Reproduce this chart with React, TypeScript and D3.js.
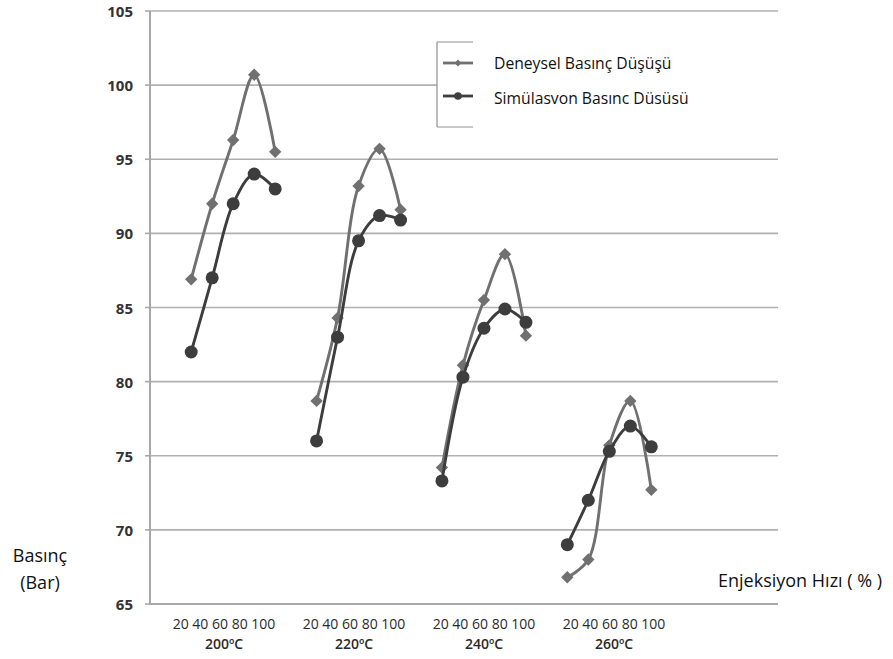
import * as d3 from 'd3';

const groups = ['200ºC', '220ºC', '240ºC', '260ºC'];
const speeds = ['20', '40', '60', '80', '100'];
const speedLabel = speeds.join(' ');

// Deneysel Basınç Düşüşü (diamond)
const deneysel = [
  [86.9, 92.0, 96.3, 100.7, 95.5],
  [78.7, 84.3, 93.2, 95.7, 91.6],
  [74.2, 81.1, 85.5, 88.6, 83.1],
  [66.8, 68.0, 75.7, 78.7, 72.7],
];

// Simülasyon Basınç Düşüşü (circle)
const simulasyon = [
  [82.0, 87.0, 92.0, 94.0, 93.0],
  [76.0, 83.0, 89.5, 91.2, 90.9],
  [73.3, 80.3, 83.6, 84.9, 84.0],
  [69.0, 72.0, 75.3, 77.0, 75.6],
];

const yTicks = [65, 70, 75, 80, 85, 90, 95, 100, 105];

const W = 893;
const H = 659;
const plot = { left: 150, right: 778, top: 11, bottom: 604 };
const font = '"Open Sans", "Liberation Sans", sans-serif';

const lightGray = '#707070';
const darkGray = '#3d3d3d';

const y = d3.scaleLinear().domain([65, 105]).range([plot.bottom, plot.top]);
const xGroup = d3.scaleBand<string>().domain(groups).range([170.5, 672]);
const xInner = d3.scalePoint<string>().domain(speeds).range([-42, 42]);
const xLabel = d3.scalePoint<string>().domain(groups).range([224, 614]);

const xOf = (gi: number, si: number) =>
  (xGroup(groups[gi]) as number) + xGroup.bandwidth() / 2 + (xInner(speeds[si]) as number);

const diamond = (cx: number, cy: number, r: number) =>
  `M${cx},${cy - r}L${cx + r},${cy}L${cx},${cy + r}L${cx - r},${cy}Z`;

const Series = ({ data, color, marker }: { data: number[][]; color: string; marker: 'diamond' | 'circle' }) => (
  <g>
    {data.map((vals, gi) => {
      const gen = d3
        .line<number>()
        .x((_, i) => xOf(gi, i))
        .y((d) => y(d))
        .curve(d3.curveCatmullRom.alpha(0.5));
      return (
        <g key={gi}>
          <path d={gen(vals) || ''} fill="none" stroke={color} strokeWidth={2.9} />
          {vals.map((v, si) =>
            marker === 'circle' ? (
              <circle key={si} cx={xOf(gi, si)} cy={y(v)} r={6.5} fill={color} />
            ) : (
              <path key={si} d={diamond(xOf(gi, si), y(v), 6.2)} fill={color} />
            )
          )}
        </g>
      );
    })}
  </g>
);

export default function App() {
  const legendX = 437;
  const legendTop = 42;
  const legendBottom = 127;
  return (
    <svg width={W} height={H} style={{ position: 'absolute', left: 0, top: 0, background: '#fff' }}>
      {/* gridlines */}
      {yTicks.slice(1).map((t) => (
        <line key={t} x1={plot.left} x2={plot.right} y1={y(t)} y2={y(t)} stroke="#b0b0b0" strokeWidth={1.6} />
      ))}
      {/* axes */}
      <line x1={plot.left} x2={plot.left} y1={plot.top} y2={plot.bottom} stroke="#a8a8a8" strokeWidth={2} />
      <line x1={plot.left - 1} x2={plot.right} y1={plot.bottom} y2={plot.bottom} stroke="#a8a8a8" strokeWidth={2} />
      {yTicks.map((t) => (
        <g key={t}>
          <line x1={plot.left - 5} x2={plot.left} y1={y(t)} y2={y(t)} stroke="#a8a8a8" strokeWidth={1.6} />
          <text
            x={133}
            y={y(t)}
            textAnchor="end"
            dominantBaseline="central"
            fontFamily={font}
            fontSize={15}
            fontWeight={700}
            fill="#333"
          >
            {t}
          </text>
        </g>
      ))}

      {/* x labels */}
      {groups.map((g) => (
        <g key={g}>
          <text
            x={xLabel(g)}
            y={623}
            textAnchor="middle"
            dominantBaseline="central"
            fontFamily={font}
            fontSize={14}
            fill="#2a2a2a"
          >
            {speedLabel}
          </text>
          <text
            x={xLabel(g)}
            y={643}
            textAnchor="middle"
            dominantBaseline="central"
            fontFamily={font}
            fontSize={14}
            fontWeight={600}
            fill="#2a2a2a"
          >
            {g}
          </text>
        </g>
      ))}

      {/* legend box */}
      <rect x={legendX} y={legendTop} width={plot.right + 2 - legendX} height={legendBottom - legendTop} fill="#fff" />
      <line x1={legendX} x2={legendX} y1={legendTop} y2={legendBottom} stroke="#909090" strokeWidth={1.2} />
      <line x1={legendX} x2={473} y1={legendTop} y2={legendTop} stroke="#909090" strokeWidth={1.2} />
      <line x1={legendX} x2={473} y1={legendBottom} y2={legendBottom} stroke="#909090" strokeWidth={1.2} />

      <Series data={deneysel} color={lightGray} marker="diamond" />
      <Series data={simulasyon} color={darkGray} marker="circle" />

      {/* legend entries */}
      <line x1={443} x2={473} y1={63} y2={63} stroke={lightGray} strokeWidth={2.8} />
      <path d={diamond(458, 63, 3.5)} fill={lightGray} />
      <text x={494} y={63} dominantBaseline="central" fontFamily={font} fontSize={15.7} fill="#111">
        Deneysel Basınç Düşüşü
      </text>
      <line x1={443} x2={473} y1={96} y2={96} stroke={darkGray} strokeWidth={2.8} />
      <circle cx={458} cy={96} r={3.8} fill={darkGray} />
      <text x={494} y={98} dominantBaseline="central" fontFamily={font} fontSize={15.7} fill="#111">
        Simülasvon Basınc Düsüsü
      </text>

      {/* axis titles */}
      <text x={40} y={555} textAnchor="middle" dominantBaseline="central" fontFamily={font} fontSize={18} fill="#111">
        Basınç
      </text>
      <text x={40} y={582} textAnchor="middle" dominantBaseline="central" fontFamily={font} fontSize={18} fill="#111">
        (Bar)
      </text>
      <text x={718} y={580} dominantBaseline="central" fontFamily={font} fontSize={18} fill="#111">
        Enjeksiyon Hızı ( % )
      </text>
    </svg>
  );
}
